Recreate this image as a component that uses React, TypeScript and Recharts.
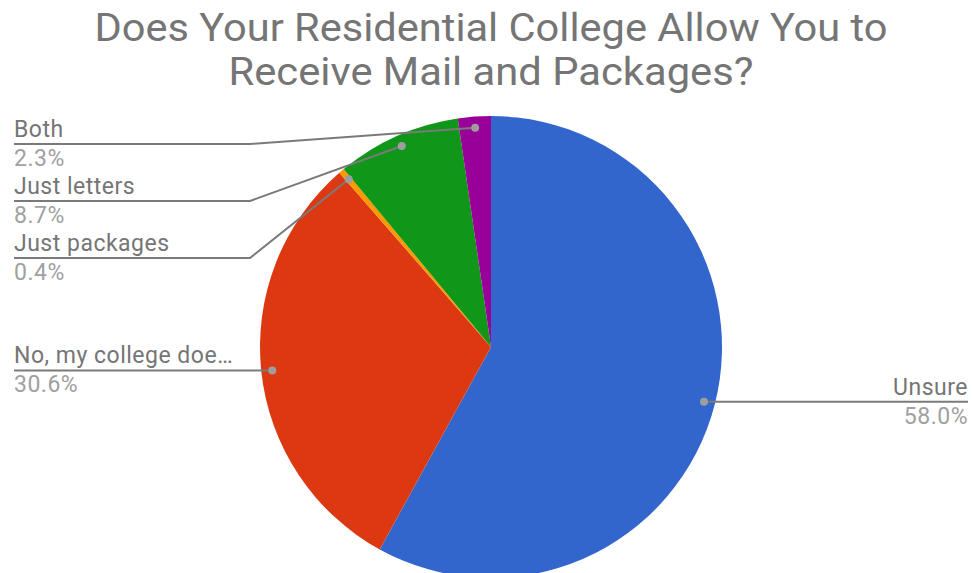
import React from 'react';
import { PieChart, Pie, Cell } from 'recharts';

const categories = ['Unsure', 'No, my college doe\u2026', 'Just packages', 'Just letters', 'Both'];
const values = [58.0, 30.6, 0.4, 8.7, 2.3];
const colors = ['#3366cc', '#dc3912', '#ff9900', '#109618', '#990099'];
const titleLines = ['Does Your Residential College Allow You to', 'Receive Mail and Packages?'];

const data = categories.map((name, i) => ({ name, value: values[i] }));
const total = values.reduce((a, b) => a + b, 0);

const FONT = 'Roboto, "Noto Sans", Arial, sans-serif';
const W = 972;
const H = 573;
const CX = 491;
const CY = 347;
const R = 231;

type LabelInfo = { dotX: number; dotY: number; lineY: number; side: 'left' | 'right' };

function computeLayout(cx: number, cy: number, r: number): LabelInfo[] {
  const dotR = r * 0.952;
  let cum = 0;
  const infos: LabelInfo[] = values.map((v) => {
    const mid = ((cum + v / 2) / total) * 2 * Math.PI; // clockwise from top
    cum += v;
    const dotX = cx + dotR * Math.sin(mid);
    const dotY = cy - dotR * Math.cos(mid);
    return { dotX, dotY, lineY: dotY, side: dotX >= cx ? 'right' : 'left' };
  });
  const minTop = cy - r + 28;
  const gap = 57;
  (['left', 'right'] as const).forEach((side) => {
    const idx = infos.map((d, i) => i).filter((i) => infos[i].side === side);
    idx.sort((a, b) => infos[a].dotY - infos[b].dotY);
    let prev = -Infinity;
    idx.forEach((i) => {
      const y = Math.max(infos[i].dotY, minTop, prev + gap);
      infos[i].lineY = y;
      prev = y;
    });
  });
  return infos;
}

const renderLabel = (props: any) => {
  const { cx, cy, outerRadius, index } = props;
  const layout = computeLayout(cx, cy, outerRadius);
  const info = layout[index];
  const name = categories[index];
  const pct = ((values[index] / total) * 100).toFixed(1) + '%';
  const leftX = 14;
  const rightX = W - 4;
  const elbow = 250;
  let points: string;
  if (info.side === 'left') {
    points =
      Math.abs(info.lineY - info.dotY) < 0.5
        ? `${leftX},${info.lineY} ${info.dotX},${info.dotY}`
        : `${leftX},${info.lineY} ${elbow},${info.lineY} ${info.dotX},${info.dotY}`;
  } else {
    const rElbow = W - elbow;
    points =
      Math.abs(info.lineY - info.dotY) < 0.5
        ? `${info.dotX},${info.dotY} ${rightX},${info.lineY}`
        : `${info.dotX},${info.dotY} ${rElbow},${info.lineY} ${rightX},${info.lineY}`;
  }
  const tx = info.side === 'left' ? leftX : rightX;
  const anchor = info.side === 'left' ? 'start' : 'end';
  return (
    <g key={`lbl-${index}`}>
      <polyline points={points} fill="none" stroke="#7a7a7a" strokeWidth={2} />
      <circle cx={info.dotX} cy={info.dotY} r={4} fill="#9e9e9e" />
      <text x={tx} y={info.lineY - 7} textAnchor={anchor} fontFamily={FONT} fontSize={23}
        letterSpacing={0.5} fill="#757575">
        {name}
      </text>
      <text x={tx} y={info.lineY + 22} textAnchor={anchor} fontFamily={FONT} fontSize={23}
        letterSpacing={0.5} fill="#a0a0a0">
        {pct}
      </text>
    </g>
  );
};

export default function App() {
  return (
    <div style={{ position: 'absolute', left: 0, top: 0, width: W, height: H, background: '#fff' }}>
      <PieChart width={W} height={H} margin={{ top: 0, right: 0, bottom: 0, left: 0 }}>
        <text x={491} y={41} textAnchor="middle" fontFamily={FONT} fontSize={39} fill="#757575"
          textLength={793} lengthAdjust="spacingAndGlyphs">
          {titleLines[0]}
        </text>
        <text x={491} y={85} textAnchor="middle" fontFamily={FONT} fontSize={39} fill="#757575"
          textLength={525} lengthAdjust="spacingAndGlyphs">
          {titleLines[1]}
        </text>
        <Pie
          data={data}
          dataKey="value"
          nameKey="name"
          cx={CX}
          cy={CY}
          outerRadius={R}
          startAngle={90}
          endAngle={-270}
          stroke="none"
          isAnimationActive={false}
          labelLine={false}
          label={renderLabel}
        >
          {data.map((d, i) => (
            <Cell key={d.name} fill={colors[i]} />
          ))}
        </Pie>
      </PieChart>
    </div>
  );
}
